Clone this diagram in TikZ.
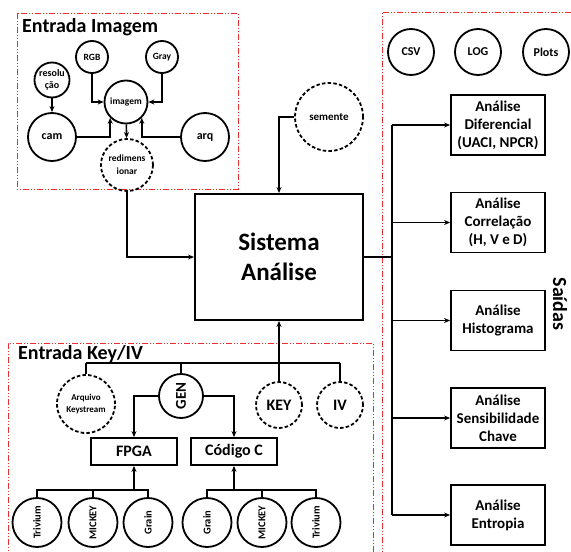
\documentclass[tikz,border=0pt]{standalone}
\usepackage{fontspec}
\setmainfont{Carlito}
\usetikzlibrary{arrows.meta}
\definecolor{frame}{RGB}{235,45,45}
\newcommand{\fs}[2]{\fontsize{#1}{#2}\selectfont\bfseries}
\tikzset{
  group/.style={draw=frame, line width=1pt,
    dash pattern=on 6pt off 2pt on 1pt off 2pt on 1pt off 2pt},
  circ/.style={circle, draw, line width=1.8pt, inner sep=0pt, align=center,
    minimum size=#1},
  dcirc/.style={circ=#1, dash pattern=on 3.5pt off 2.2pt},
  box/.style={draw, line width=1.8pt, inner sep=0pt, align=center},
  wire/.style={line width=1.6pt},
  arr/.style={wire, -{Stealth[length=6pt,width=5pt]}},
  title/.style={font=\fs{20}{24}, anchor=base west, inner sep=0pt}
}
\begin{document}
\begin{tikzpicture}[x=1pt,y=-1pt]
\useasboundingbox (0,0) rectangle (571,552);

% group frames
\draw[group] (17,13) rectangle (238,189);
\draw[group] (373,552) -- (373,343) -- (8,343) -- (8,552);
\draw[group] (571,12) -- (382,12) -- (382,552);

\node[title] (tImg) at (22,32) {Entrada Imagem};
\node[title] (tKey) at (18,359) {Entrada Key/IV};
\node[font=\fs{20}{24}, rotate=-90, inner sep=0pt] (tOut) at (560,304) {Saídas};

% central block
\node[box, minimum width=168pt, minimum height=126pt, line width=2pt,
  font=\fs{25}{30}] (sys) at (279,257) {Sistema\\Análise};

% image input
\node[circ=35pt, font=\fs{10}{12}] (res) at (52,80) {resolu\\ção};
\node[circ=32pt, font=\fs{9.5}{11}] (rgb) at (92,57) {RGB};
\node[circ=32pt, font=\fs{9.5}{11}] (gray) at (162,57) {Gray};
\node[circ=43pt, font=\fs{9.5}{11}] (img) at (126,102) {imagem};
\node[circ=48pt, font=\fs{12}{14}] (cam) at (52,137) {cam};
\node[circ=48pt, font=\fs{12}{14}] (arq) at (205,137) {arq};
\node[dcirc=52pt, font=\fs{9.5}{13}] (redim) at (127,165) {redimens\\ionar};

\draw[arr] (res) -- (cam);
\draw[arr] (rgb) |- (img);
\draw[arr] (gray) |- (img);
\draw[arr] (cam) -| (img.south west);
\draw[arr] (arq) -| (img.south east);
\draw[arr] (img) -- (redim);
\draw[arr] (redim) |- (sys);

% seed
\node[dcirc=68pt, font=\fs{11}{13}] (sem) at (329,117) {semente};
\draw[arr] (sem) -| (sys.north);

% outputs
\node[circ=46pt, font=\fs{12}{14}] (csv) at (411,52) {CSV};
\node[circ=46pt, font=\fs{12}{14}] (log) at (478,52) {LOG};
\node[circ=46pt, font=\fs{12}{14}] (plots) at (546,52) {Plots};

\tikzset{outbox/.style={box, minimum width=94pt, minimum height=60pt,
  font=\fs{15}{18}}}
\node[outbox] (o1) at (498,125) {Análise\\Diferencial\\(UACI, NPCR)};
\node[outbox] (o2) at (498,222.5) {Análise\\Correlação\\(H, V e D)};
\node[outbox] (o3) at (498,320.5) {Análise\\Histograma};
\node[outbox] (o4) at (498,418) {Análise\\Sensibilidade\\Chave};
\node[outbox] (o5) at (498,515) {Análise\\Entropia};

\coordinate (bj) at (392,257);
\draw[wire] (sys.east) -- (bj);
\draw[wire] (o1.west -| bj) -- (o5.west -| bj);
\foreach \o in {o1,o2,o3,o4,o5}
  \draw[arr] (\o.west -| bj) -- (\o.west);

% key / IV input
\node[dcirc=58pt, font=\fs{9}{12}] (ark) at (86,404) {Arquivo\\Keystream};
\node[circ=44pt] (gen) at (181,396) {};
\node[font=\fs{15}{18}, rotate=90, inner sep=0pt] (genl) at (gen) {GEN};
\node[dcirc=46pt, font=\fs{16}{18}] (key) at (279,405) {KEY};
\node[dcirc=46pt, font=\fs{16}{18}] (iv) at (340,405) {IV};

\coordinate (kb) at (279,363);
\draw[wire] (ark.north |- kb) -- (iv.north |- kb);
\draw[wire] (ark.north |- kb) -- (ark.north);
\draw[wire] (gen.north |- kb) -- (gen.north);
\draw[wire] (iv.north |- kb) -- (iv.north);
\draw[arr] (key.north) -- (sys.south);

\node[box, minimum width=86pt, minimum height=27pt, font=\fs{16}{18}] (fpga) at (134,451.5) {FPGA};
\node[box, minimum width=86pt, minimum height=27pt, font=\fs{16}{18}] (cc) at (234,451.5) {Código C};
\draw[arr] (gen.west) -| (fpga.north);
\draw[arr] (gen.east) -| (cc.north);

\tikzset{alg/.style={circ=49pt},
  algl/.style={font=\fs{10.5}{12}, rotate=90, inner sep=0pt}}
\foreach \n/\x/\t in {t1/37/Trivium, m1/93/MICKEY, g1/148/Grain,
                      g2/207/Grain, m2/262/MICKEY, t2/316/Trivium} {
  \node[alg] (\n) at (\x,522.5) {};
  \node[algl] at (\n) {\t};
}

\coordinate (fb) at (134,490);
\coordinate (cb) at (234,490);
\draw[wire] (t1.north) |- (fb) -| (g1.north);
\draw[wire] (m1.north) -- (m1.north |- fb);
\draw[arr] (fb) -- (fpga.south);
\draw[wire] (g2.north) |- (cb) -| (t2.north);
\draw[wire] (m2.north) -- (m2.north |- cb);
\draw[arr] (cb) -- (cc.south);
\end{tikzpicture}
\end{document}
